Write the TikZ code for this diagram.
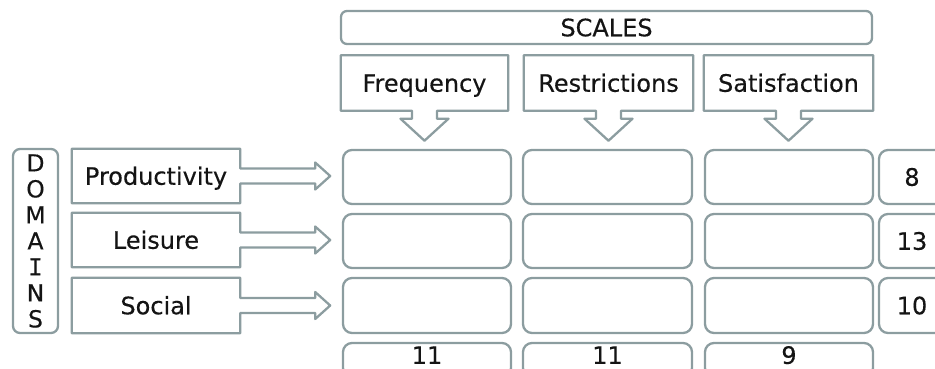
\documentclass[tikz,border=0pt]{standalone}
\usepackage{fontspec}
\setmainfont[FakeBold=0.35]{DejaVu Sans}
\setmonofont[FakeBold=0.35]{DejaVu Sans Mono}
\usetikzlibrary{calc}
\definecolor{edge}{RGB}{140,157,160}
\definecolor{ink}{RGB}{20,20,20}
\newcommand\downcallout[1]{%
  \draw[outl] ($(#1.south)+(-12.5,0)$) -- (#1.south west) -- (#1.north west) -- (#1.north east) -- (#1.south east)
    -- ($(#1.south)+(12.5,0)$) -- ++(0,8) -- ++(11.5,0) -- ($(#1.south)+(0,30)$) -- ++(-24,-22) -- ++(11.5,0) -- cycle;}
\newcommand\rightcallout[1]{%
  \draw[outl] ($(#1.east)+(0,-7.5)$) -- (#1.north east) -- (#1.north west) -- (#1.south west) -- (#1.south east)
    -- ($(#1.east)+(0,7.5)$) -- ++(75,0) -- ++(0,6) -- ($(#1.east)+(90,0)$) -- ++(-15,-13.5) -- ++(0,6) -- cycle;}
\begin{document}
\begin{tikzpicture}[x=1pt,y=-1pt,
  outl/.style={draw=edge, line width=2.3pt, line join=round},
  rbox/.style={outl, rounded corners=9pt, inner sep=0pt},
  plain/.style={inner sep=0pt},
  lbl/.style={text=ink, font=\fontsize{24}{28}\selectfont, text height=17.5pt, text depth=0pt},
]
\useasboundingbox (0,0) rectangle (935,368);
\clip (0,0) rectangle (935,368);

% scales header
\node[rbox, rounded corners=6pt, lbl, minimum width=531, minimum height=33] (scales) at (606.5,27.5) {SCALES};

% scale callouts
\node[plain, lbl, minimum width=167, minimum height=55] (freq) at (424.5,83) {Frequency};
\node[plain, lbl, minimum width=169, minimum height=55] (restr) at (608.5,83) {Restrictions};
\node[plain, lbl, minimum width=169, minimum height=55] (satis) at (788.5,83) {Satisfaction};
\downcallout{freq}
\downcallout{restr}
\downcallout{satis}

% domains label
\node[rbox, rounded corners=7pt, text=ink, minimum width=45, minimum height=184, align=center,
      font=\fontsize{23.5}{26}\selectfont] (domains) at (35.5,241) {D\\O\\M\\A\\{\ttfamily I}\\N\\S};

% domain callouts
\node[plain, lbl, minimum width=168, minimum height=54] (prod) at (156,176) {Productivity};
\node[plain, lbl, minimum width=168, minimum height=54] (leis) at (156,240) {Leisure};
\node[plain, lbl, minimum width=168, minimum height=55] (soc) at (156,305.5) {Social};
\rightcallout{prod}
\rightcallout{leis}
\rightcallout{soc}

% grid
\node[rbox, minimum width=168, minimum height=54] (g11) at (427,177) {};
\node[rbox, minimum width=169, minimum height=54] (g12) at (607.5,177) {};
\node[rbox, minimum width=168, minimum height=54] (g13) at (789,177) {};
\node[rbox, lbl, minimum width=66, minimum height=54] (t1) at (912,177) {8};

\node[rbox, minimum width=168, minimum height=54] (g21) at (427,241) {};
\node[rbox, minimum width=169, minimum height=54] (g22) at (607.5,241) {};
\node[rbox, minimum width=168, minimum height=54] (g23) at (789,241) {};
\node[rbox, lbl, minimum width=66, minimum height=54] (t2) at (912,241) {13};

\node[rbox, minimum width=168, minimum height=55] (g31) at (427,305.5) {};
\node[rbox, minimum width=169, minimum height=55] (g32) at (607.5,305.5) {};
\node[rbox, minimum width=168, minimum height=55] (g33) at (789,305.5) {};
\node[rbox, lbl, minimum width=66, minimum height=55] (t3) at (912,305.5) {10};

\node[rbox, minimum width=168, minimum height=34] (b1) at (427,360) {};
\node[rbox, minimum width=169, minimum height=34] (b2) at (607.5,360) {};
\node[rbox, minimum width=168, minimum height=34] (b3) at (789,360) {};
\node[plain, text=ink, font=\fontsize{24}{28}\selectfont, anchor=base] (n1) at ($(b1.north)+(0,22)$) {11};
\node[plain, text=ink, font=\fontsize{24}{28}\selectfont, anchor=base] (n2) at ($(b2.north)+(0,22)$) {11};
\node[plain, text=ink, font=\fontsize{24}{28}\selectfont, anchor=base] (n3) at ($(b3.north)+(0,22)$) {9};
\end{tikzpicture}
\end{document}
